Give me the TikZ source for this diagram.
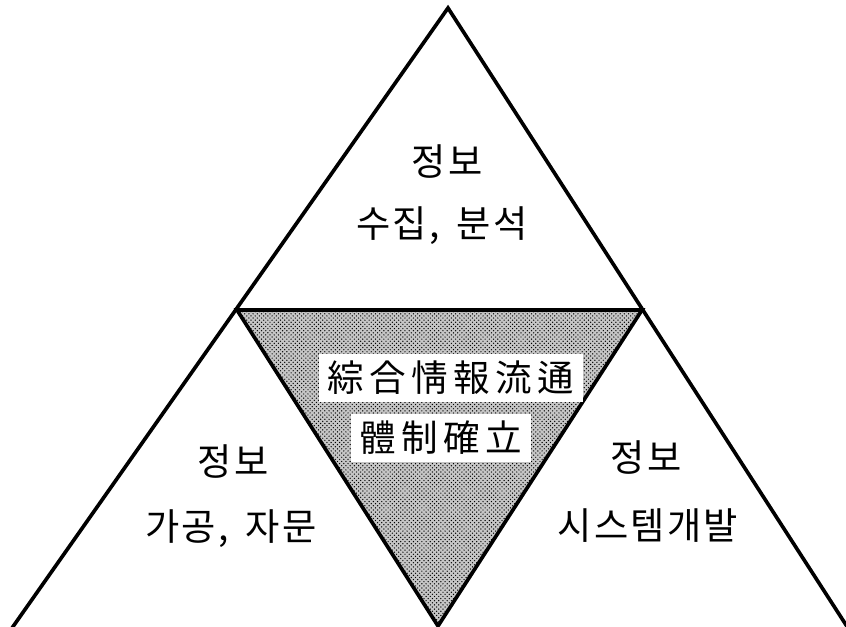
\documentclass[tikz,border=0pt]{standalone}
\usepackage{fontspec}
\setmainfont[LetterSpace=6,WordSpace=1.6]{Noto Sans CJK KR}
\newfontfamily\hanja[LetterSpace=15]{Noto Sans CJK KR}
\usetikzlibrary{patterns}

\begin{document}
\begin{tikzpicture}[x=0.025cm,y=-0.025cm,line join=miter]
\tikzstyle{every node}=[font=\fontsize{26.5}{30}\selectfont,inner sep=0pt]
\tikzstyle{side}=[line width=2.6pt]
\tikzstyle{hanja box}=[fill=white,inner xsep=6pt,inner ysep=5pt,font=\hanja\fontsize{26}{30}\selectfont]

\useasboundingbox (0,0) rectangle (846,626);

% corners
\coordinate (T)  at (448,8);
\coordinate (BL) at (12,628);
\coordinate (BR) at (848,628);
\coordinate (ML) at (237,310);
\coordinate (MR) at (642,310);
\coordinate (MB) at (438,626);

% shaded middle
\fill[gray!45] (ML) -- (MR) -- (MB) -- cycle;
\fill[pattern=crosshatch dots,pattern color=black] (ML) -- (MR) -- (MB) -- cycle;

\draw[side] (BL) -- (T) -- (BR);
\draw[side] (ML) -- (MR) -- (MB) -- cycle;

% top
\node (top1) at (447,162) {정보};
\node (top2) at (442,226) {수집, 분석};

% left
\node (left1) at (233,462) {정보};
\node (left2) at (231,529) {가공, 자문};

% right
\node (right1) at (646,458) {정보};
\node (right2) at (648,526) {시스템개발};

% middle
\node[hanja box] (mid1) at (451,378) {綜合情報流通};
\node[hanja box] (mid2) at (441,438) {體制確立};
\end{tikzpicture}
\end{document}
